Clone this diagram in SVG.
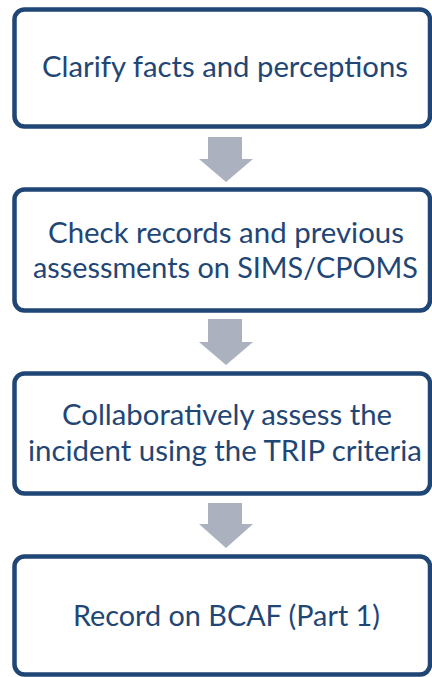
<svg xmlns="http://www.w3.org/2000/svg" width="432" height="677" viewBox="0 0 432 677">
<style>
.box{fill:#ffffff;stroke:#1f4675;stroke-width:4.5}
.arr{fill:#abb1be}
.t{font-family:Lato,"Open Sans","Liberation Sans",sans-serif;font-size:28px;fill:#1f4675;text-anchor:middle}
</style>
<rect width="432" height="677" fill="#ffffff"/>
<g id="connectors">
<polygon class="arr" points="208,137 242,137 242,159 253,159 226,182 199,159 208,159"/>
<polygon class="arr" points="208,319 242,319 242,342 253,342 226,365 199,342 208,342"/>
<polygon class="arr" points="208,503 242,503 242,524 253,524 226,548 199,524 208,524"/>
</g>
<g id="node1">
<rect class="box" x="14.5" y="9.5" width="415.5" height="117" rx="10"/>
<text class="t" x="225" y="77" textLength="366" lengthAdjust="spacingAndGlyphs">Clarify facts and perceptions</text>
</g>
<g id="node2">
<rect class="box" x="14.5" y="189.5" width="415.5" height="121" rx="10"/>
<text class="t" x="226" y="243" textLength="356" lengthAdjust="spacingAndGlyphs">Check records and previous</text>
<text class="t" x="225.5" y="278" textLength="385" lengthAdjust="spacingAndGlyphs">assessments on SIMS/CPOMS</text>
</g>
<g id="node3">
<rect class="box" x="14.5" y="373.5" width="415.5" height="120" rx="10"/>
<text class="t" x="227" y="425" textLength="330" lengthAdjust="spacingAndGlyphs">Collaboratively assess the</text>
<text class="t" x="225" y="461" textLength="394" lengthAdjust="spacingAndGlyphs">incident using the TRIP criteria</text>
</g>
<g id="node4">
<rect class="box" x="14.5" y="556.5" width="415.5" height="118" rx="10"/>
<text class="t" x="226.5" y="626" textLength="307" lengthAdjust="spacingAndGlyphs">Record on BCAF (Part 1)</text>
</g>
</svg>
